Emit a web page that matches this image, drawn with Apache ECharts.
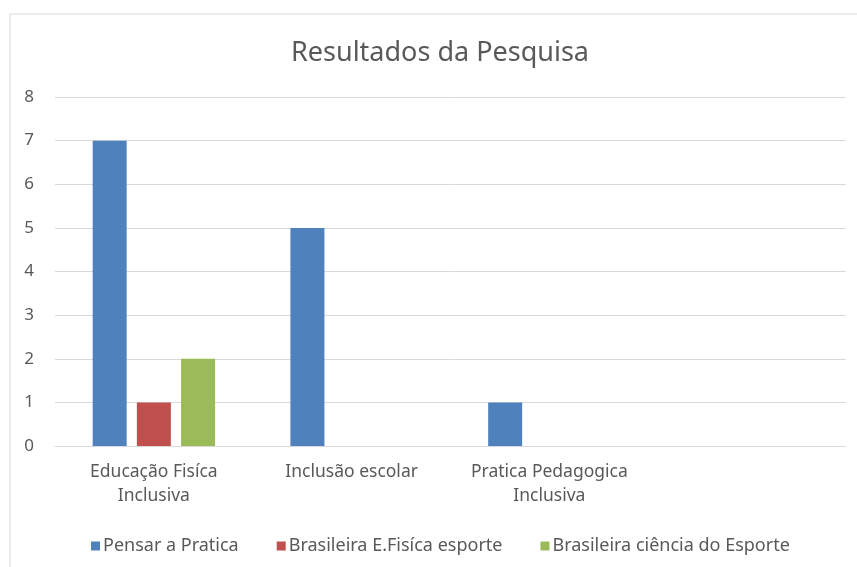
<!DOCTYPE html>
<html>
<head>
<meta charset="utf-8">
<script src="https://cdn.jsdelivr.net/npm/echarts@6/dist/echarts.min.js"></script>
<style>
  html, body { margin: 0; padding: 0; background: #fff; }
  #chart { width: 857px; height: 567px; }
</style>
</head>
<body>
<div id="chart"></div>
<script>
// categories (last one is an empty slot, as in the original sheet)
var categories = ['Educação Fisíca\nInclusiva', 'Inclusão escolar', 'Pratica Pedagogica\nInclusiva', '']
var seriesNames = ['Pensar a Pratica', 'Brasileira E.Fisíca esporte', 'Brasileira ciência do Esporte']
var pensarPratica = [7, 5, 1, 0]
var efisicaEsporte = [1, 0, 0, 0]
var cienciaEsporte = [2, 0, 0, 0]
var colors = ['#4F81BD', '#C0504D', '#9BBB59']

var font = 'Noto Sans'
var textColor = '#595959'

var chart = echarts.init(document.getElementById('chart'))

function bar(name, data, color) {
  return {
    name: name,
    type: 'bar',
    data: data,
    barWidth: 34,
    barGap: '30%',
    itemStyle: { color: color }
  }
}

chart.setOption({
  animation: false,
  textStyle: { fontFamily: font },
  graphic: [{
    type: 'rect',
    shape: { x: 10, y: 14, width: 900, height: 600 },
    style: { fill: 'none', stroke: '#d9d9d9', lineWidth: 1 },
    silent: true
  }],
  title: {
    text: 'Resultados da Pesquisa',
    left: 286,
    top: 35,
    textStyle: { fontFamily: font, fontSize: 27, fontWeight: 'normal', color: textColor }
  },
  legend: {
    data: seriesNames,
    left: 86,
    top: 532,
    itemWidth: 9,
    itemHeight: 9,
    itemGap: 38,
    icon: 'rect',
    textStyle: { fontFamily: font, fontSize: 18, color: textColor, padding: [0, 0, 0, -2] }
  },
  grid: { left: 55, right: 11, top: 97, bottom: 121, containLabel: false },
  xAxis: {
    type: 'category',
    data: categories,
    axisLine: { lineStyle: { color: '#d9d9d9' } },
    axisTick: { show: false },
    axisLabel: { color: textColor, fontSize: 17.5, lineHeight: 24, margin: 14, interval: 0 }
  },
  yAxis: {
    type: 'value',
    min: 0,
    max: 8,
    interval: 1,
    axisLine: { show: false },
    axisTick: { show: false },
    splitLine: { lineStyle: { color: '#d9d9d9' } },
    axisLabel: { color: textColor, fontSize: 17, margin: 21 }
  },
  series: [
    bar(seriesNames[0], pensarPratica, colors[0]),
    bar(seriesNames[1], efisicaEsporte, colors[1]),
    bar(seriesNames[2], cienciaEsporte, colors[2])
  ]
})
</script>
</body>
</html>
